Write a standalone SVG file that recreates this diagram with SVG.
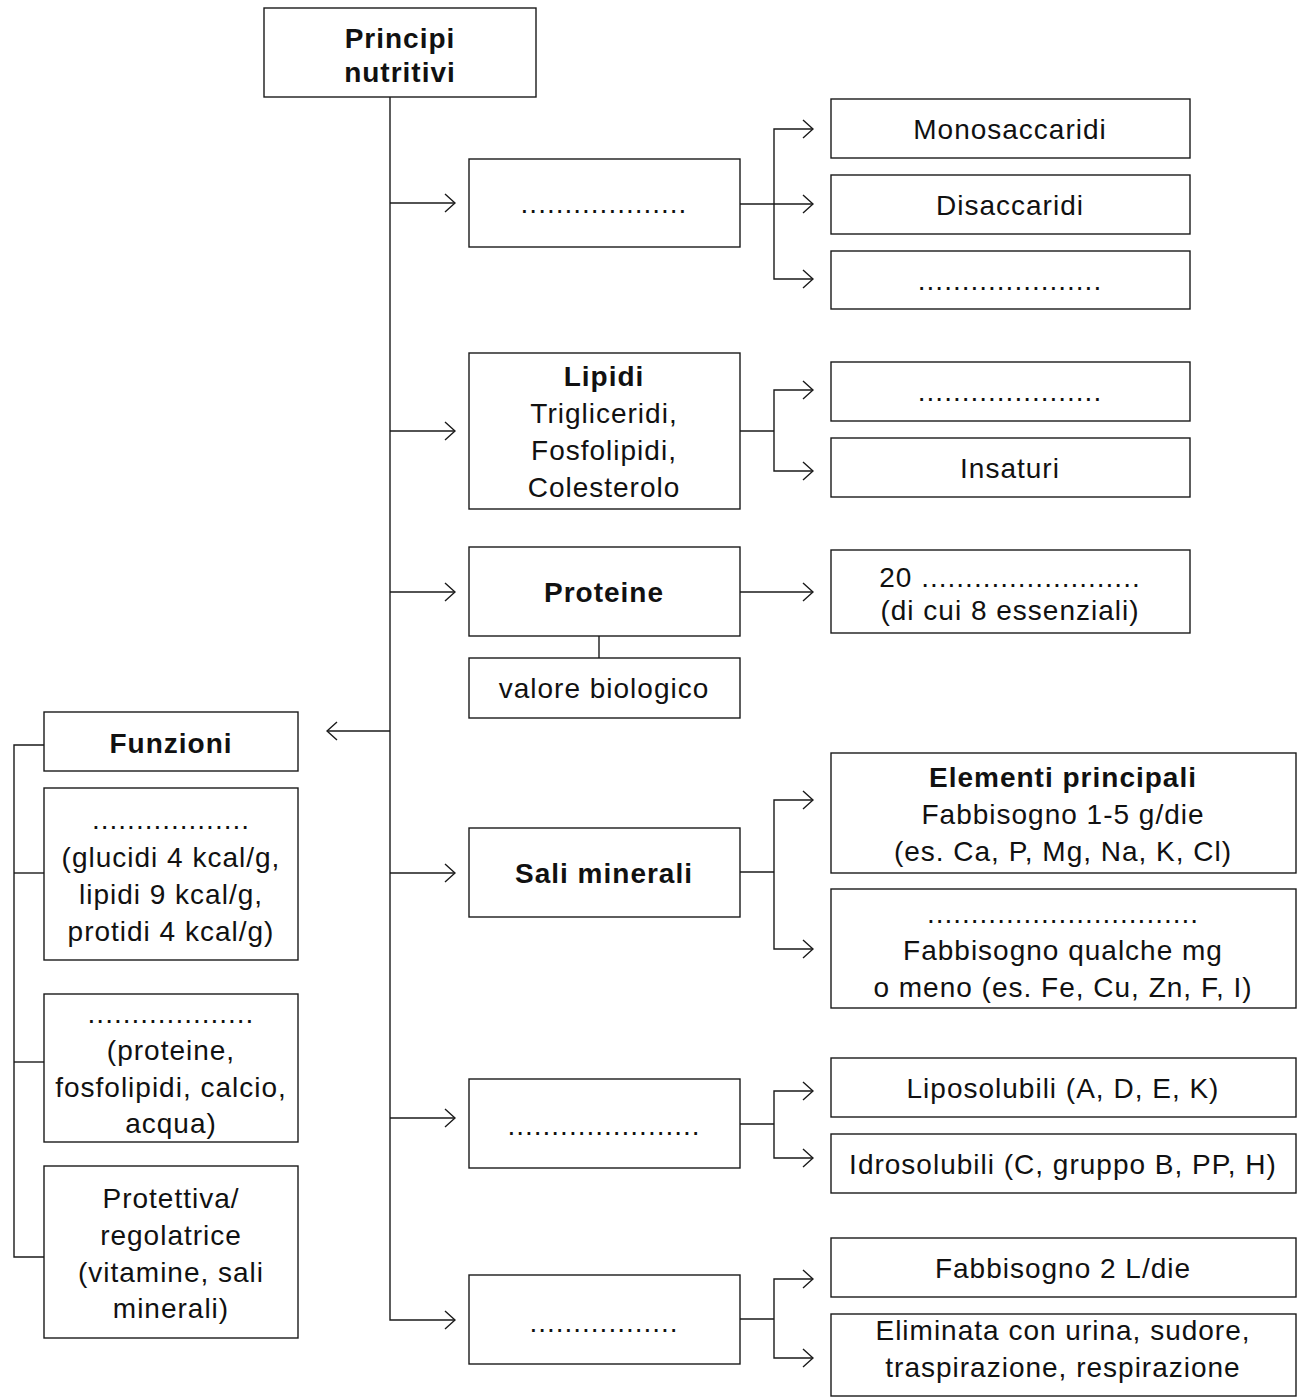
<svg xmlns="http://www.w3.org/2000/svg" width="1304" height="1397" viewBox="0 0 1304 1397">
<style>
.box{fill:#fff;stroke:#1a1a1a;stroke-width:1.4}
.ln{fill:none;stroke:#1a1a1a;stroke-width:1.4}
text{font-family:"Liberation Sans",Arial,sans-serif;font-size:28px;fill:#111;text-anchor:middle;letter-spacing:1px}
.b{font-weight:bold}
</style>
<defs>
<marker id="arr" viewBox="0 0 12 20" refX="11" refY="10" markerWidth="12" markerHeight="20" markerUnits="userSpaceOnUse" orient="auto">
<path d="M1,1 L11,10 L1,19" fill="none" stroke="#1a1a1a" stroke-width="1.4"/>
</marker>
</defs>
<rect width="1304" height="1397" fill="#fff"/>
<g id="connectors" class="ln">
<path class="ln" d="M390,97 V1320 H455" marker-end="url(#arr)"/>
<path class="ln" d="M390,203 H455" marker-end="url(#arr)"/>
<path class="ln" d="M390,431 H455" marker-end="url(#arr)"/>
<path class="ln" d="M390,592 H455" marker-end="url(#arr)"/>
<path class="ln" d="M390,731 H327" marker-end="url(#arr)"/>
<path class="ln" d="M390,873 H455" marker-end="url(#arr)"/>
<path class="ln" d="M390,1118 H455" marker-end="url(#arr)"/>
<path class="ln" d="M740,204 H813" marker-end="url(#arr)"/>
<path class="ln" d="M774,204 V129 H813" marker-end="url(#arr)"/>
<path class="ln" d="M774,204 V279 H813" marker-end="url(#arr)"/>
<path class="ln" d="M740,431 H774"/>
<path class="ln" d="M774,431 V390 H813" marker-end="url(#arr)"/>
<path class="ln" d="M774,431 V471 H813" marker-end="url(#arr)"/>
<path class="ln" d="M740,592 H813" marker-end="url(#arr)"/>
<path class="ln" d="M599,636 V658"/>
<path class="ln" d="M740,872 H774"/>
<path class="ln" d="M774,872 V800 H813" marker-end="url(#arr)"/>
<path class="ln" d="M774,872 V949 H813" marker-end="url(#arr)"/>
<path class="ln" d="M740,1124 H774"/>
<path class="ln" d="M774,1124 V1091 H813" marker-end="url(#arr)"/>
<path class="ln" d="M774,1124 V1158 H813" marker-end="url(#arr)"/>
<path class="ln" d="M740,1319 H774"/>
<path class="ln" d="M774,1319 V1279 H813" marker-end="url(#arr)"/>
<path class="ln" d="M774,1319 V1358 H813" marker-end="url(#arr)"/>
<path class="ln" d="M44,745 H14 V1257 H44"/>
<path class="ln" d="M14,873 H44"/>
<path class="ln" d="M14,1062 H44"/>
</g>
<g id="principi"><rect class="box" x="264" y="8" width="272" height="89"/><text class="b" x="400" y="48">Principi</text><text class="b" x="400" y="82">nutritivi</text></g>
<g id="glucidi"><rect class="box" x="469" y="159" width="271" height="88"/><text x="604" y="213">...................</text></g>
<g id="monosaccaridi"><rect class="box" x="831" y="99" width="359" height="59"/><text x="1010" y="139">Monosaccaridi</text></g>
<g id="disaccaridi"><rect class="box" x="831" y="175" width="359" height="59"/><text x="1010" y="215">Disaccaridi</text></g>
<g id="polisaccaridi"><rect class="box" x="831" y="251" width="359" height="58"/><text x="1010" y="290">.....................</text></g>
<g id="lipidi"><rect class="box" x="469" y="353" width="271" height="156"/><text class="b" x="604" y="386">Lipidi</text><text x="604" y="423">Trigliceridi,</text><text x="604" y="460">Fosfolipidi,</text><text x="604" y="497">Colesterolo</text></g>
<g id="saturi"><rect class="box" x="831" y="362" width="359" height="59"/><text x="1010" y="401">.....................</text></g>
<g id="insaturi"><rect class="box" x="831" y="438" width="359" height="59"/><text x="1010" y="478">Insaturi</text></g>
<g id="proteine"><rect class="box" x="469" y="547" width="271" height="89"/><text class="b" x="604" y="602">Proteine</text></g>
<g id="valore"><rect class="box" x="469" y="658" width="271" height="60"/><text x="604" y="698">valore biologico</text></g>
<g id="aminoacidi"><rect class="box" x="831" y="550" width="359" height="83"/><text x="1010" y="587">20 .........................</text><text x="1010" y="620">(di cui 8 essenziali)</text></g>
<g id="funzioni"><rect class="box" x="44" y="712" width="254" height="59"/><text class="b" x="171" y="753">Funzioni</text></g>
<g id="energetica"><rect class="box" x="44" y="788" width="254" height="172"/><text x="171" y="829">..................</text><text x="171" y="867">(glucidi 4 kcal/g,</text><text x="171" y="904">lipidi 9 kcal/g,</text><text x="171" y="941">protidi 4 kcal/g)</text></g>
<g id="plastica"><rect class="box" x="44" y="994" width="254" height="148"/><text x="171" y="1023">...................</text><text x="171" y="1060">(proteine,</text><text x="171" y="1097">fosfolipidi, calcio,</text><text x="171" y="1133">acqua)</text></g>
<g id="protettiva"><rect class="box" x="44" y="1166" width="254" height="172"/><text x="171" y="1208">Protettiva/</text><text x="171" y="1245">regolatrice</text><text x="171" y="1282">(vitamine, sali</text><text x="171" y="1318">minerali)</text></g>
<g id="sali"><rect class="box" x="469" y="828" width="271" height="89"/><text class="b" x="604" y="883">Sali minerali</text></g>
<g id="elementi"><rect class="box" x="831" y="753" width="465" height="120"/><text class="b" x="1063" y="787">Elementi principali</text><text x="1063" y="824">Fabbisogno 1-5 g/die</text><text x="1063" y="861">(es. Ca, P, Mg, Na, K, Cl)</text></g>
<g id="oligoelementi"><rect class="box" x="831" y="889" width="465" height="119"/><text x="1063" y="923">...............................</text><text x="1063" y="960">Fabbisogno qualche mg</text><text x="1063" y="997">o meno (es. Fe, Cu, Zn, F, I)</text></g>
<g id="vitamine"><rect class="box" x="469" y="1079" width="271" height="89"/><text x="604" y="1135">......................</text></g>
<g id="liposolubili"><rect class="box" x="831" y="1058" width="465" height="59"/><text x="1063" y="1098">Liposolubili (A, D, E, K)</text></g>
<g id="idrosolubili"><rect class="box" x="831" y="1134" width="465" height="59"/><text x="1063" y="1174">Idrosolubili (C, gruppo B, PP, H)</text></g>
<g id="acqua"><rect class="box" x="469" y="1275" width="271" height="89"/><text x="604" y="1332">.................</text></g>
<g id="fabbisogno"><rect class="box" x="831" y="1238" width="465" height="59"/><text x="1063" y="1278">Fabbisogno 2 L/die</text></g>
<g id="eliminata"><rect class="box" x="831" y="1314" width="465" height="82"/><text x="1063" y="1340">Eliminata con urina, sudore,</text><text x="1063" y="1377">traspirazione, respirazione</text></g>
</svg>
